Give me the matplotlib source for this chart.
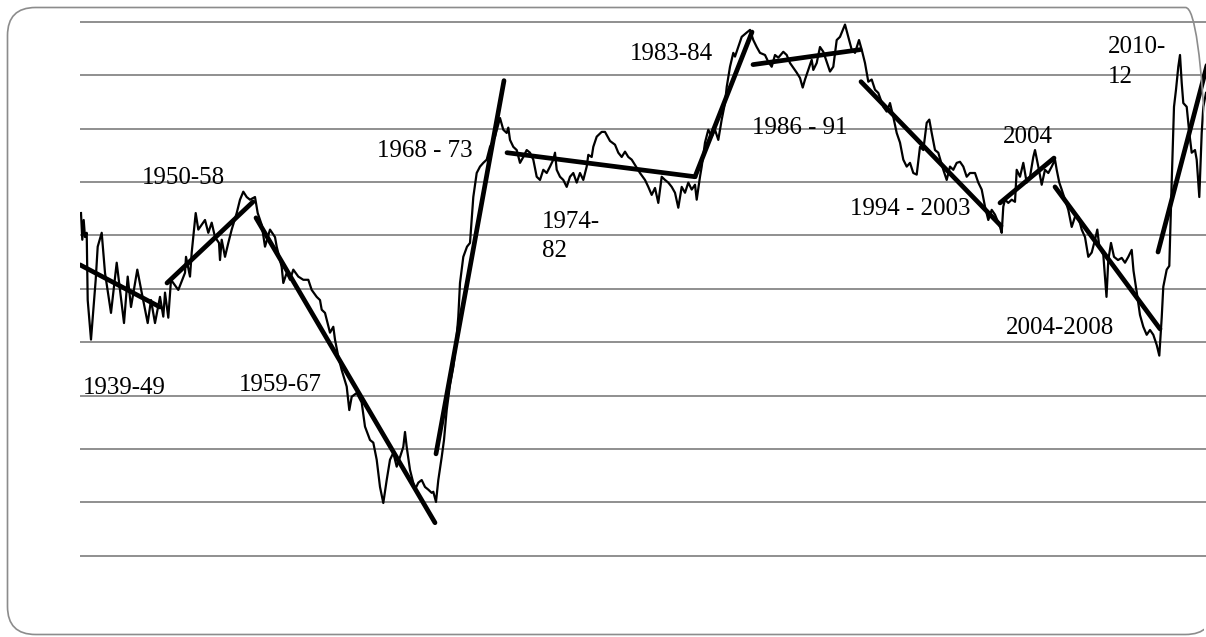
import matplotlib.pyplot as plt
from matplotlib.patches import FancyBboxPatch
from matplotlib.transforms import IdentityTransform, Bbox

plt.rcParams['font.family'] = ['Liberation Serif', 'DejaVu Serif']

# time index (arbitrary units along the period 1939 - 2012)
t = [1, 2.3, 3.7, 5, 6.7, 7.7, 11, 13.3, 15.7, 17.7, 21.7, 25, 31, 36.7, 44, 47.7, 51, 57.3, 61.7, 67.7,
     71, 75, 80, 83.3, 85, 88.3, 91, 98.3, 105, 106, 110, 111.7, 115.7, 118.3, 125, 128.3, 131.7, 135, 139, 140,
     141.7, 145, 148.3, 151.7, 156.7, 160, 163.3, 166.7, 170, 175, 177.7, 181.7,
     185, 190, 195, 196.7, 201.7, 203.3, 206.7, 210, 213.3, 218.3, 223.3, 228.3, 231.7, 236.7, 240, 241.7,
     245, 250, 253.3, 255, 258.3, 261.7, 266.7, 269.3, 271.7, 276.7, 281.7, 285, 290, 293.3, 296.7, 300,
     303.3, 306.7, 310, 313.3, 316.7, 320, 323.3, 325, 326.7, 330, 335, 338.3, 341.7, 345, 348.3, 351.7,
     353.3, 356,
     358.3, 361.7, 364, 366.7, 370, 373.3, 376, 378.3, 380, 383.3, 387, 390, 393.3, 396.7, 400, 403.3,
     406.7, 410, 415, 420, 423.3, 426.7, 428.3, 430, 433.3, 436.7, 440, 443.3, 446.7, 450, 453.3, 456.7,
     460, 463.3, 466.7, 470, 473.3, 475, 476.7, 480, 483.3, 486.7, 490, 493.3, 496.7, 500, 503.3, 506.7,
     508.3, 511.7, 513.3, 516.7, 521.7, 525, 530, 535, 538.3, 541.7, 545, 548.3, 551.7, 556.7, 560, 565,
     568.3, 571.7, 575, 578.3, 581.7, 585, 588.3, 591.7, 595, 598.3, 601.7, 605, 608.3, 611.7, 615, 616.7,
     620, 621.7, 625, 628.3, 631.7, 635, 638.3, 641.7, 645, 646.7, 650, 653.3, 655, 658.3, 661.7, 666.7,
     670, 673.3, 676.7, 680, 685, 688.3, 691.7, 695, 698.3, 703.3, 706.7, 710, 716.7, 720, 722.7, 725,
     728.3, 731.7, 733.3, 736.7, 740, 743.3, 746.7, 750, 753.3, 756.7, 760, 765, 768.3, 771.7, 775, 779,
     781.7, 785, 788.3, 791.7, 795, 798.3, 803.3, 806.7, 810, 813.3, 816.7, 820, 823.3, 826.7, 830, 833.3,
     836.7, 840, 843.3, 846.7, 849.3, 851.7, 855, 858.3, 863.3, 866.7, 870, 873.3, 876.7, 880, 883.3, 886.7,
     890, 895, 898.3, 901.7, 905, 908.3, 911.7, 915, 920, 921.7, 923.3, 925, 928.3, 931.7, 935, 936.7,
     940, 943.3, 946.7, 950, 953.3, 955, 958.3, 961.7, 965, 968.3, 971.7, 975, 976.7, 979.3, 981.7, 985,
     988.3, 991.7, 995, 998.3, 1001.7, 1005, 1008.3, 1011.7, 1015, 1017.3, 1019.3, 1023.3, 1026.5, 1028.3,
     1031, 1034, 1038, 1041.7, 1045, 1048.3, 1051.7, 1053.5, 1056.7, 1060, 1063.3, 1066.7, 1070, 1073.3,
     1076.7, 1079.3, 1081.7, 1083.3, 1086.7, 1089.3, 1091.7, 1094, 1096, 1098.3, 1100, 1101.7, 1103.3,
     1106.7, 1109.3, 1111.7, 1115, 1116.7, 1119.3, 1121.7, 1123.3, 1126]

level = [64.2, 59.2, 62.9, 59.7, 60.5, 47.9, 40.5, 46.1, 51.7, 57.9, 60.5, 53.0, 45.5, 54.9, 43.6, 52.3, 46.6, 53.6, 49.3, 43.6,
         47.9, 43.6, 48.5, 44.8, 49.3, 44.6, 51.7, 49.8, 53.0, 56.0, 52.3, 56.8, 64.2, 61.1, 62.9, 60.5, 62.4, 59.7, 58.6, 55.4,
         59.2, 56.0, 58.6, 61.1, 64.2, 66.7, 68.2, 67.2, 66.7, 67.2, 64.2, 62.0,
         57.9, 61.1, 59.7, 57.9, 54.1, 51.1, 53.0, 51.7, 53.6, 52.3, 51.7, 51.7, 49.8, 48.5, 47.9, 46.1,
         45.5, 41.8, 42.9, 40.5, 37.3, 34.8, 31.7, 27.3, 29.8, 30.5, 28.7, 24.2, 21.7, 21.2, 18.0, 12.9,
         9.9, 14.2, 18.0, 19.3, 16.7, 18.5, 20.4, 23.2, 20.4, 16.1, 12.4, 13.7, 14.2, 12.9, 12.4, 11.8,
         12.0, 10.1,
         14.2, 18.5, 21.7, 27.3, 32.0, 35.4, 39.5, 44.8, 51.1, 56.0, 57.9, 58.6, 67.2, 71.7, 72.9, 73.6,
         74.2, 76.6, 78.5, 82.0, 79.8, 79.2, 80.2, 77.9, 76.6, 76.0, 73.6, 74.7, 76.0, 75.5, 74.2, 71.0,
         70.4, 72.3, 71.7, 72.9, 74.2, 75.5, 72.3, 71.0, 70.4, 69.1, 71.0, 71.7, 69.9, 71.7, 70.4, 72.9,
         75.1, 74.7, 76.6, 78.5, 79.4, 79.4, 77.7, 77.0, 75.5, 74.7, 75.7, 74.7, 74.2, 72.7, 71.7, 70.4,
         69.1, 67.6, 68.9, 66.1, 71.0, 70.4, 69.9, 69.1, 68.0, 65.2, 69.1, 68.0, 69.9, 68.6, 69.5, 66.7,
         71.0, 72.9, 77.4, 79.8, 78.5, 79.8, 77.9, 81.7, 84.8, 87.8, 91.6, 94.2, 93.5, 95.3, 97.2, 98.0,
         98.5, 96.6, 95.3, 94.2, 93.8, 92.5, 91.6, 93.8, 93.3, 94.4, 93.8, 92.3, 90.5, 89.5, 87.7, 89.2,
         91.0, 92.9, 91.0, 92.3, 95.3, 94.4, 92.5, 90.7, 91.6, 96.6, 97.2, 99.5, 97.2, 94.8, 94.2, 96.6,
         94.8, 92.3, 88.8, 89.2, 87.3, 86.7, 84.1, 83.2, 84.8, 82.2, 79.2, 77.4, 74.2, 72.9, 73.6, 71.7,
         71.4, 76.6, 76.0, 81.1, 81.7, 79.2, 76.0, 75.5, 72.3, 70.4, 72.9, 72.3, 73.6, 73.8, 72.9, 71.0,
         71.7, 71.7, 69.9, 68.6, 65.4, 62.9, 64.8, 63.9, 61.6, 60.5, 65.4, 66.7, 66.1, 66.7, 66.3, 72.3,
         71.0, 73.6, 69.9, 71.0, 74.7, 76.0, 72.9, 69.5, 72.3, 71.7, 72.9, 74.2, 72.3, 69.9, 68.6, 66.7,
         64.8, 61.6, 63.5, 63.5, 61.1, 59.7, 56.0, 56.8, 59.2, 61.1, 57.9, 56.4, 48.5, 55.4,
         58.6, 56.0, 55.4, 55.8, 54.9, 56.0, 57.3, 53.4, 49.4, 45.1, 42.9, 41.4, 42.3, 41.4,
         39.5, 37.5, 44.6, 50.4, 53.6, 54.3, 70.0, 84.1, 87.3, 91.6, 93.8, 88.6, 84.8,
         84.1, 79.2, 75.5, 76.0, 74.2, 67.2, 79.2, 84.1, 86.7]

# trend segments: (start t, start level, end t, end level)
trend_t0 = [0, 87, 176, 356, 427, 615, 673, 781, 920, 975, 1078]
trend_v0 = [54.5, 51.1, 63.3, 19.1, 75.5, 71.0, 92.0, 88.8, 66.1, 69.1, 56.9]
trend_t1 = [80, 173, 355, 424, 615, 672, 780, 921, 974, 1080, 1130]
trend_v1 = [46.6, 66.3, 6.2, 89.0, 71.0, 98.1, 94.8, 61.8, 74.5, 42.5, 94.0]

# period labels: text, left t, baseline level
labels = ['1939-49', '1950-58', '1959-67', '1974-', '82', '1983-84', '1986 - 91',
          '1994 - 2003', '2004', '2004-2008', '2010-', '12']
label_t = [3, 62, 159, 462, 462, 550, 672, 770, 923, 926, 1028, 1028]
label_v = [30.3, 69.7, 30.9, 61.4, 56.0, 92.9, 79.0, 63.9, 77.4, 41.6, 94.2, 88.6]


fig = plt.figure(figsize=(12.06, 6.37), dpi=100)
ax = fig.add_axes([80 / 1206, 0, 1126 / 1206, 1])

ax.plot(t, level, color='black', lw=1.6, solid_joinstyle='round')

for x0, y0, x1, y1 in zip(trend_t0, trend_v0, trend_t1, trend_v1):
    ax.plot([x0, x1], [y0, y1], color='black', lw=3.4, solid_capstyle='round')

for txt, x, y in zip(labels, label_t, label_v):
    ax.text(x, y, txt, fontsize=18, ha='left', va='baseline', color='black')
ax.text(393, 74.7, '1968 - 73', fontsize=18, ha='right', va='baseline', color='black')

ax.set_xlim(0, 1126)
ax.set_ylim(-15.2, 104.1)
ax.set_yticks(range(0, 101, 10))
ax.set_xticks([])
ax.grid(axis='y', color='#878787', lw=1.3)
ax.set_axisbelow(True)
ax.tick_params(left=False, labelleft=False)
for s in ax.spines.values():
    s.set_visible(False)
ax.patch.set_alpha(0)

# rounded frame around the chart; its right side lies past the picture edge,
# so clip it just inside the canvas
frame = FancyBboxPatch((7.5, 2.5), 1206, 627, boxstyle='round,pad=0,rounding_size=28',
                       transform=IdentityTransform(), fill=False, ec='#8c8c8c', lw=1.2)
fig.add_artist(frame)
frame.set_clip_on(True)
frame.set_clip_box(Bbox([[0, 0], [1203.5, 637]]))

fig.savefig('out.png', dpi=100)
